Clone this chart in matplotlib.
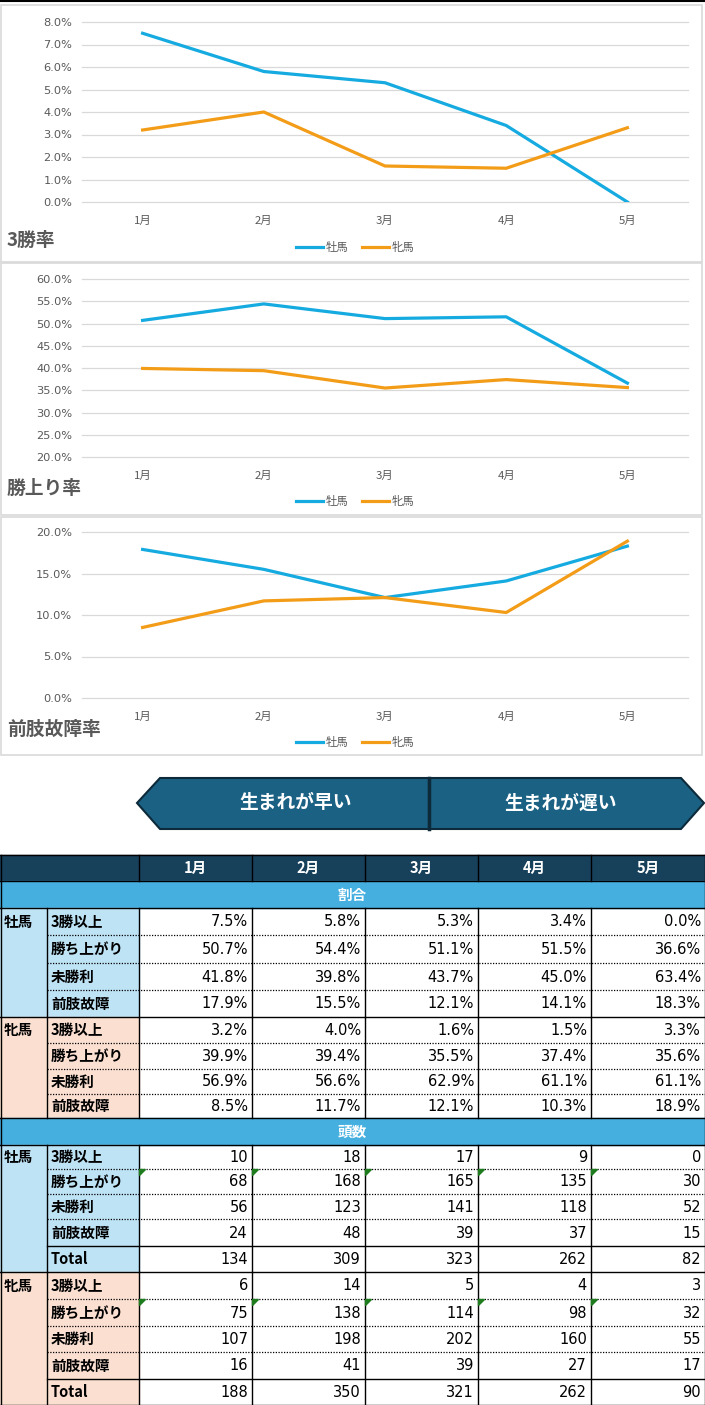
import numpy as np
import matplotlib.pyplot as plt
from matplotlib.patches import Rectangle, Polygon
from matplotlib.ticker import FuncFormatter

plt.rcParams['font.family'] = ['DejaVu Sans', 'Noto Sans CJK JP']
JP = ['Noto Sans CJK JP', 'DejaVu Sans']

months = ["1月", "2月", "3月", "4月", "5月"]
sexes = ["牡馬", "牝馬"]
sections = ["割合", "頭数"]
rate_rows = ["3勝以上", "勝ち上がり", "未勝利", "前肢故障"]
count_rows = ["3勝以上", "勝ち上がり", "未勝利", "前肢故障", "Total"]
banner_labels = ["生まれが早い", "生まれが遅い"]

# 割合 (%)
male_3win = [7.5, 5.8, 5.3, 3.4, 0.0]
male_win = [50.7, 54.4, 51.1, 51.5, 36.6]
male_maiden = [41.8, 39.8, 43.7, 45.0, 63.4]
male_injury = [17.9, 15.5, 12.1, 14.1, 18.3]
female_3win = [3.2, 4.0, 1.6, 1.5, 3.3]
female_win = [39.9, 39.4, 35.5, 37.4, 35.6]
female_maiden = [56.9, 56.6, 62.9, 61.1, 61.1]
female_injury = [8.5, 11.7, 12.1, 10.3, 18.9]

# 頭数
male_n_3win = [10, 18, 17, 9, 0]
male_n_win = [68, 168, 165, 135, 30]
male_n_maiden = [56, 123, 141, 118, 52]
male_n_injury = [24, 48, 39, 37, 15]
male_n_total = [134, 309, 323, 262, 82]
female_n_3win = [6, 14, 5, 4, 3]
female_n_win = [75, 138, 114, 98, 32]
female_n_maiden = [107, 198, 202, 160, 55]
female_n_injury = [16, 41, 39, 27, 17]
female_n_total = [188, 350, 321, 262, 90]

W, H = 705, 1405
fig = plt.figure(figsize=(W / 100, H / 100), dpi=100)
fig.patch.set_facecolor('white')

BLUE = '#15ABE0'
ORANGE = '#F39C18'
GRAY = '#595959'
GRID = '#D9D9D9'


def px_axes(x, y, w, h):
    return fig.add_axes([x / W, 1 - (y + h) / H, w / W, h / H])


# overlay in pixel coordinates for boxes, banner and table
ov = fig.add_axes([0, 0, 1, 1], zorder=5)
ov.set_xlim(0, W)
ov.set_ylim(H, 0)
ov.axis('off')

ov.plot([0, W], [0.5, 0.5], color='black', lw=1.5)

# ---- line charts ----
charts = [
    ("3勝率", male_3win, female_3win, 0, 8, 1, (5, 262), (22, 202), 240, 247),
    ("勝上り率", male_win, female_win, 20, 60, 5, (263, 515), (279, 457), 488, 501),
    ("前肢故障率", male_injury, female_injury, 0, 20, 5, (517, 755), (532, 698), 729, 742),
]
x = np.arange(len(months))
for title, m, f, lo, hi, step, panel, plot_y, title_y, leg_y in charts:
    ov.add_patch(Rectangle((1, panel[0]), 701, panel[1] - panel[0],
                           fill=False, edgecolor=GRID, lw=1.2))
    ax = px_axes(82, plot_y[0], 606, plot_y[1] - plot_y[0])
    ax.plot(x, m, color=BLUE, lw=2.3, label=sexes[0])
    ax.plot(x, f, color=ORANGE, lw=2.3, label=sexes[1])
    ax.set_xlim(-0.5, len(months) - 0.5)
    ax.set_ylim(lo, hi)
    ax.set_yticks(np.arange(lo, hi + step / 2, step))
    ax.yaxis.set_major_formatter(FuncFormatter(lambda v, p: f"{v:.1f}%"))
    ax.set_xticks(x)
    ax.set_xticklabels(months, family=JP)
    ax.grid(axis='y', color=GRID, lw=0.9, clip_on=False)
    ax.set_axisbelow(True)
    for s in ax.spines.values():
        s.set_visible(False)
    ax.tick_params(axis='y', length=0, labelsize=8.2, labelcolor=GRAY, pad=7)
    ax.tick_params(axis='x', length=0, labelsize=8.2, labelcolor=GRAY, pad=10)
    ax.patch.set_alpha(0)
    ax.legend(loc='center', bbox_to_anchor=(355 / W, 1 - leg_y / H),
              bbox_transform=fig.transFigure, ncol=2, frameon=False,
              prop={'family': JP, 'size': 8.2}, labelcolor=GRAY,
              handlelength=2.4, handletextpad=0.2, columnspacing=1.2)
    fig.text(7 / W, 1 - title_y / H, title, fontsize=13.5, fontweight='bold',
             color=GRAY, va='center', family=JP)

# ---- banner ----
BAN_FILL = '#1B6184'
BAN_EDGE = '#0C2A3A'
ov.add_patch(Polygon([(137, 803), (160, 778), (429, 778), (429, 829), (160, 829)],
                     closed=True, facecolor=BAN_FILL, edgecolor=BAN_EDGE, lw=1.5))
ov.add_patch(Polygon([(429, 778), (681, 778), (704, 803), (681, 829), (429, 829)],
                     closed=True, facecolor=BAN_FILL, edgecolor=BAN_EDGE, lw=1.5))
ov.plot([429, 429], [778, 829], color=BAN_EDGE, lw=2.5)
ov.text(296, 803, banner_labels[0], color='white', fontsize=13.5, fontweight='bold',
        ha='center', va='center', family=JP)
ov.text(561, 803, banner_labels[1], color='white', fontsize=13.5, fontweight='bold',
        ha='center', va='center', family=JP)

# ---- table ----
col_x = [0, 47, 139, 252, 365, 478, 591, 705]
bounds = [855, 881, 908, 935, 963, 990, 1017, 1043, 1069, 1094, 1118,
          1145, 1169, 1194, 1219, 1246, 1272, 1299, 1326, 1352, 1379, 1405]
HEAD = '#17405B'
SECT = '#45B0E0'
GROUP_FILL = ['#BEE3F5', '#FBE0D2']

rate_data = [[male_3win, male_win, male_maiden, male_injury],
             [female_3win, female_win, female_maiden, female_injury]]
count_data = [[male_n_3win, male_n_win, male_n_maiden, male_n_injury, male_n_total],
              [female_n_3win, female_n_win, female_n_maiden, female_n_injury, female_n_total]]

LW = 1.0


def hline(y, x0=0, x1=W, dotted=False):
    if dotted:
        ov.plot([x0, x1], [y, y], color='black', lw=0.9, ls=(0, (1, 1.2)))
    else:
        ov.plot([x0, x1], [y, y], color='black', lw=LW)


def vlines(y0, y1, xs):
    for xx in xs:
        ov.plot([xx, xx], [y0, y1], color='black', lw=LW)


# header row
ov.add_patch(Rectangle((0, bounds[0]), W, bounds[1] - bounds[0], color=HEAD))
for j, mo in enumerate(months):
    ov.text((col_x[j + 2] + col_x[j + 3]) / 2, (bounds[0] + bounds[1]) / 2, mo,
            color='white', fontsize=10.5, fontweight='bold', ha='center', va='center', family=JP)
vlines(bounds[0], bounds[1], [0.5] + col_x[2:-1] + [704.5])
hline(bounds[0])
hline(bounds[1])

row = 1
for si, (sec, rows, data) in enumerate([(sections[0], rate_rows, rate_data),
                                         (sections[1], count_rows, count_data)]):
    y0, y1 = bounds[row], bounds[row + 1]
    ov.add_patch(Rectangle((0, y0), W, y1 - y0, color=SECT))
    ov.text(W / 2, (y0 + y1) / 2, sec, color='white', fontsize=10.5, fontweight='bold',
            ha='center', va='center', family=JP)
    vlines(y0, y1, [0.5, 704.5])
    hline(y1)
    row += 1
    for g, sex in enumerate(sexes):
        g_top = bounds[row]
        g_bot = bounds[row + len(rows)]
        ov.add_patch(Rectangle((0, g_top), col_x[2], g_bot - g_top, color=GROUP_FILL[g]))
        ov.text(4, (bounds[row] + bounds[row + 1]) / 2, sex, fontsize=10.5,
                fontweight='bold', ha='left', va='center', family=JP)
        for r, label in enumerate(rows):
            ry0, ry1 = bounds[row + r], bounds[row + r + 1]
            cy = (ry0 + ry1) / 2
            ov.text(51, cy, label, fontsize=10.5, fontweight='bold', ha='left',
                    va='center', family=JP)
            vals = data[g][r]
            for j, v in enumerate(vals):
                s = f"{v:.1f}%" if si == 0 else f"{v}"
                ov.text(col_x[j + 3] - 4, cy + 0.5, s, fontsize=10.5, ha='right', va='center')
                if si == 1 and label == "勝ち上がり":
                    cx = col_x[j + 2] + 0.5
                    ov.add_patch(Polygon([(cx, ry0 + 0.5), (cx + 6, ry0 + 0.5), (cx, ry0 + 6.5)],
                                         closed=True, color='#1E7B1E', zorder=6))
            if r < len(rows) - 1:
                if label == "前肢故障":
                    hline(ry1, col_x[1])
                else:
                    hline(ry1, col_x[1], W, dotted=True)
        vlines(g_top, g_bot, [0.5] + col_x[1:-1] + [704.5])
        hline(g_bot)
        row += len(rows)

fig.savefig('out.png', dpi=100, facecolor='white')
